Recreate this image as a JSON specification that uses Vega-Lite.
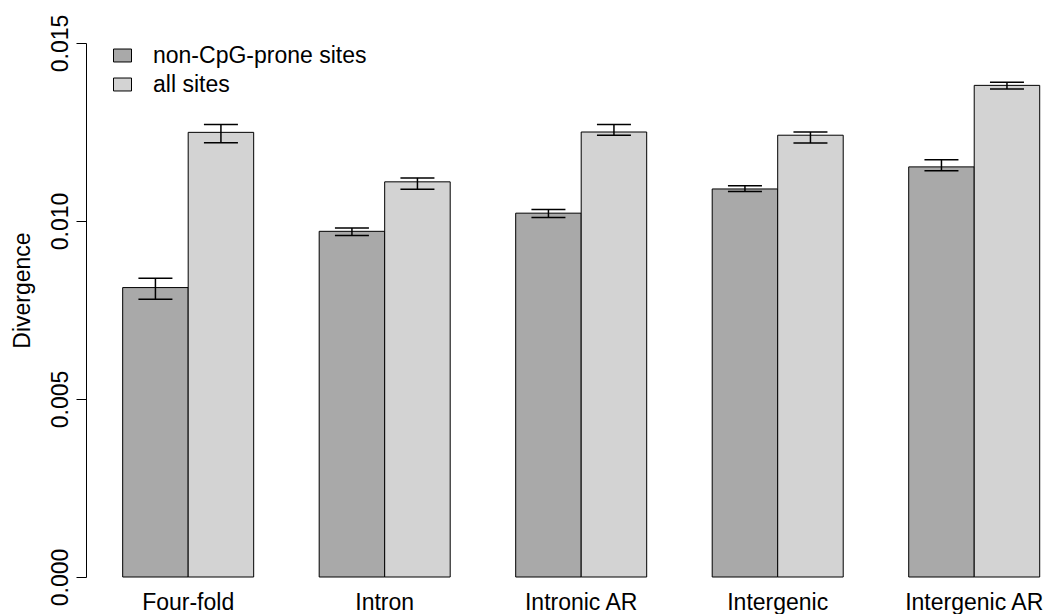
{
  "$schema": "https://vega.github.io/schema/vega-lite/v6.json",
  "autosize": {"type": "none"},
  "padding": {"left": 86, "top": 43, "right": 0, "bottom": 37},
  "width": 960,
  "height": 534,
  "background": "white",
  "config": {
    "font": "Liberation Sans",
    "view": {"stroke": null},
    "axis": {"grid": false}
  },
  "data": {
    "values": [
      {"region": "Four-fold", "sites": "non-CpG-prone sites", "divergence": 0.00813, "lo": 0.00780, "hi": 0.00839},
      {"region": "Four-fold", "sites": "all sites", "divergence": 0.01249, "lo": 0.01220, "hi": 0.01271},
      {"region": "Intron", "sites": "non-CpG-prone sites", "divergence": 0.00971, "lo": 0.00959, "hi": 0.00980},
      {"region": "Intron", "sites": "all sites", "divergence": 0.01110, "lo": 0.01089, "hi": 0.01121},
      {"region": "Intronic AR", "sites": "non-CpG-prone sites", "divergence": 0.01022, "lo": 0.01010, "hi": 0.01032},
      {"region": "Intronic AR", "sites": "all sites", "divergence": 0.01250, "lo": 0.01241, "hi": 0.01271},
      {"region": "Intergenic", "sites": "non-CpG-prone sites", "divergence": 0.01090, "lo": 0.01083, "hi": 0.01099},
      {"region": "Intergenic", "sites": "all sites", "divergence": 0.01241, "lo": 0.01219, "hi": 0.01250},
      {"region": "Intergenic AR", "sites": "non-CpG-prone sites", "divergence": 0.01152, "lo": 0.01141, "hi": 0.01172},
      {"region": "Intergenic AR", "sites": "all sites", "divergence": 0.01381, "lo": 0.01371, "hi": 0.01390}
    ]
  },
  "encoding": {
    "x": {
      "field": "region",
      "type": "nominal",
      "sort": ["Four-fold", "Intron", "Intronic AR", "Intergenic", "Intergenic AR"],
      "scale": {"paddingInner": 0.3333, "paddingOuter": 0.1093, "align": 0.8537},
      "axis": {
        "title": null,
        "domain": false,
        "ticks": false,
        "tickSize": 0,
        "labelAngle": 0,
        "labelFontSize": 23,
        "labelColor": "black",
        "labelBaseline": "alphabetic",
        "labelPadding": 32,
        "labelLimit": 0
      }
    },
    "xOffset": {
      "field": "sites",
      "type": "nominal",
      "sort": ["non-CpG-prone sites", "all sites"],
      "scale": {"paddingInner": 0, "paddingOuter": 0}
    }
  },
  "layer": [
    {
      "mark": {"type": "bar", "stroke": "black", "strokeWidth": 1},
      "encoding": {
        "y": {
          "field": "divergence",
          "type": "quantitative",
          "scale": {"domain": [0, 0.015], "nice": false, "zero": true},
          "axis": {
            "values": [0, 0.005, 0.01, 0.015],
            "format": ".3f",
            "title": "Divergence",
            "titleFontSize": 23,
            "titleFontWeight": "normal",
            "titleColor": "black",
            "titleAngle": 270,
            "titleAlign": "center",
            "titleBaseline": "alphabetic",
            "titleX": -57,
            "titleY": 247,
            "domainColor": "black",
            "tickColor": "black",
            "tickSize": 10,
            "labelAngle": 270,
            "labelAlign": "center",
            "labelBaseline": "alphabetic",
            "labelPadding": 9,
            "labelFontSize": 23,
            "labelColor": "black",
            "labelOverlap": false
          }
        },
        "fill": {
          "field": "sites",
          "type": "nominal",
          "scale": {"domain": ["non-CpG-prone sites", "all sites"], "range": ["#A9A9A9", "#D3D3D3"]},
          "legend": {
            "title": null,
            "orient": "none",
            "legendX": 25,
            "legendY": 1,
            "padding": 0,
            "symbolType": "M-1,-0.72H1V0.72H-1Z",
            "symbolSize": 324,
            "symbolStrokeColor": "black",
            "symbolStrokeWidth": 1,
            "symbolOpacity": 1,
            "labelFontSize": 23,
            "labelColor": "black",
            "labelOffset": 19,
            "labelLimit": 0,
            "rowPadding": 5
          }
        }
      }
    },
    {
      "mark": {"type": "rule", "color": "black", "strokeWidth": 1.5},
      "encoding": {
        "y": {"field": "lo", "type": "quantitative"},
        "y2": {"field": "hi"}
      }
    },
    {
      "mark": {"type": "tick", "orient": "horizontal", "color": "black", "size": 34, "thickness": 1.5, "opacity": 1},
      "encoding": {
        "y": {"field": "hi", "type": "quantitative"}
      }
    },
    {
      "mark": {"type": "tick", "orient": "horizontal", "color": "black", "size": 34, "thickness": 1.5, "opacity": 1},
      "encoding": {
        "y": {"field": "lo", "type": "quantitative"}
      }
    }
  ]
}
